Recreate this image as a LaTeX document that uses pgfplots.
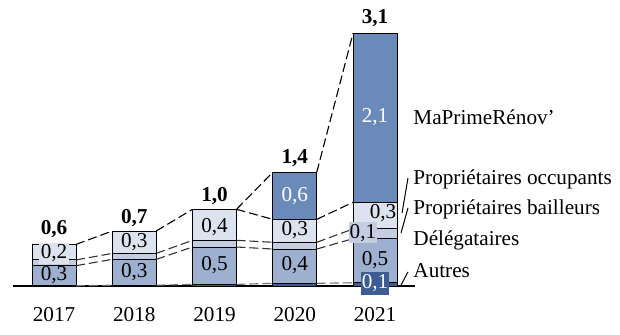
\documentclass[border=0pt]{standalone}
\usepackage{fontspec}
\setmainfont{Liberation Serif}
\usepackage{pgfplots}
\pgfplotsset{compat=1.18}
\usepackage{pgfplotstable}
\definecolor{cA}{HTML}{3E5C94}
\definecolor{cD}{HTML}{9DB0D0}
\definecolor{cB}{HTML}{C3CEE2}
\definecolor{cO}{HTML}{DCE3EE}
\definecolor{cM}{HTML}{6A8BB9}
\definecolor{lnA}{HTML}{333333}
\definecolor{lnB}{HTML}{707070}
% segments: A = Autres, D = Delegataires, B = Proprietaires bailleurs,
% O = Proprietaires occupants, M = MaPrimeRenov'
\pgfplotstableread{
x A D B O M
0 0.003 0.246 0.070 0.191 0
1 0.010 0.317 0.073 0.274 0
2 0.020 0.458 0.082 0.380 0
3 0.033 0.420 0.083 0.281 0.576
4 0.040 0.540 0.119 0.327 2.071
}\data
\pgfplotsset{base/.style={x=40.125pt,y=40.8pt,xmin=-0.51,xmax=4.5,ymin=0,ymax=3.3,clip=false}}
\tikzset{conn/.style={line width=0.55pt,dash pattern=on 4.5pt off 2pt}}
\begin{document}
\fontsize{10.6}{12.7}\selectfont
\begin{tikzpicture}
\begin{axis}[base, ybar stacked, bar width=22pt,
  axis x line*=bottom, axis y line=none,
  xtick={0,1,2,3,4}, xticklabels={2017,2018,2019,2020,2021},
  major tick length=0pt, xticklabel style={yshift=-7pt},
  axis line style={line width=0.6pt}]
\addplot[fill=cA,draw=black,line width=0.5pt] table[x=x,y=A]{\data};
\addplot[fill=cD,draw=black,line width=0.5pt] table[x=x,y=D]{\data};
\addplot[fill=cB,draw=black,line width=0.5pt] table[x=x,y=B]{\data};
\addplot[fill=cO,draw=black,line width=0.5pt] table[x=x,y=O]{\data};
\addplot[fill=cM,draw=black,line width=0.5pt] table[x=x,y=M]{\data};
\end{axis}
\begin{axis}[base, hide axis, unbounded coords=jump]
% total tops
\addplot[conn,black] coordinates {(0.274,0.510) (0.726,0.674) (1,nan) (1.274,0.674) (1.726,0.940) (2,nan) (2.274,0.940) (2.726,1.393) (3,nan) (3.274,1.393) (3.726,3.097)};
% occupants tops
\addplot[conn,black] coordinates {(2.274,0.940) (2.726,0.817) (3,nan) (3.274,0.817) (3.726,1.026)};
% bailleurs tops
\addplot[conn,lnA] coordinates {(0.274,0.319) (0.726,0.400) (1,nan) (1.274,0.400) (1.726,0.560) (2,nan) (2.274,0.560) (2.726,0.536) (3,nan) (3.274,0.536) (3.726,0.699)};
% delegataires tops
\addplot[conn,lnA] coordinates {(0.274,0.249) (0.726,0.327) (1,nan) (1.274,0.327) (1.726,0.478) (2,nan) (2.274,0.478) (2.726,0.453) (3,nan) (3.274,0.453) (3.726,0.580)};
% autres tops
\addplot[conn,lnB] coordinates {(0.274,0.003) (0.726,0.010) (1,nan) (1.274,0.010) (1.726,0.020) (2,nan) (2.274,0.020) (2.726,0.033) (3,nan) (3.274,0.033) (3.726,0.040)};
% segment labels
\node[fill=cO,inner sep=1pt] at (axis cs:0,0.40) {0,2};
\node at (axis cs:0,0.135) {0,3};
\node at (axis cs:1,0.543) {0,3};
\node at (axis cs:1,0.175) {0,3};
\node at (axis cs:2,0.727) {0,4};
\node at (axis cs:2,0.257) {0,5};
\node[white] at (axis cs:3,1.105) {0,6};
\node at (axis cs:3,0.686) {0,3};
\node at (axis cs:3,0.257) {0,4};
\node[white] at (axis cs:4,2.075) {2,1};
\node at (axis cs:4.10,0.895) {0,3};
\node[fill=cB,inner sep=0pt,minimum width=14pt,minimum height=10.5pt] at (axis cs:3.85,0.65) {0,1};
\node at (axis cs:4,0.319) {0,5};
\node[fill=cA,text=white,inner sep=0pt,minimum width=14pt,minimum height=11.5pt] at (axis cs:4,0.031) {0,1};
% totals
\node at (axis cs:0,0.700) {\textbf{0,6}};
\node at (axis cs:1,0.833) {\textbf{0,7}};
\node at (axis cs:2,1.100) {\textbf{1,0}};
\node at (axis cs:3,1.570) {\textbf{1,4}};
\node at (axis cs:4,3.280) {\textbf{3,1}};
% series names
\node[anchor=west,inner sep=0pt] at (axis cs:4.474,2.071) {MaPrimeRénov'};
\node[anchor=west,inner sep=0pt] at (axis cs:4.474,1.311) {Propriétaires occupants};
\node[anchor=west,inner sep=0pt] at (axis cs:4.474,0.944) {Propriétaires bailleurs};
\node[anchor=west,inner sep=0pt] at (axis cs:4.474,0.564) {Délégataires};
\node[anchor=west,inner sep=0pt] at (axis cs:4.474,0.184) {Autres};
\draw[line width=0.5pt] (axis cs:4.337,0.895) -- (axis cs:4.411,1.324);
\draw[line width=0.5pt] (axis cs:4.324,0.650) -- (axis cs:4.411,0.956);
\draw[line width=0.5pt] (axis cs:4.324,0.012) -- (axis cs:4.411,0.172);
\path (axis cs:-0.673,-0.600) rectangle (axis cs:7.053,3.505);
\end{axis}
\end{tikzpicture}
\end{document}
